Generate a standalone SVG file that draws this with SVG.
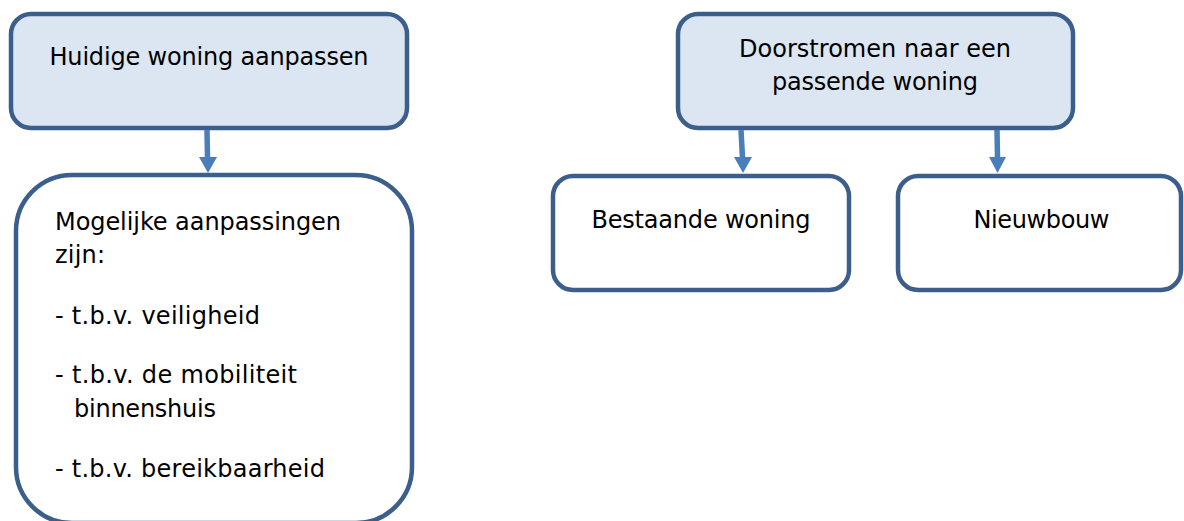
<svg xmlns="http://www.w3.org/2000/svg" width="1184" height="521" viewBox="0 0 1184 521">
<style>
.box{stroke:#3B5E8C;stroke-width:4.5;}
.hdr{fill:#DCE6F2;}
.sub{fill:#FFFFFF;}
text{font-family:"DejaVu Sans","Verdana",sans-serif;font-size:24px;fill:#000;}
.c{text-anchor:middle;}
.conn line{stroke:#4A7EBB;stroke-width:5.5;}
.conn polygon{fill:#4A7EBB;}
</style>
<rect width="1184" height="521" fill="#FFFFFF"/>
<g id="node-huidige">
<rect class="box hdr" x="11" y="14" width="396" height="114" rx="20" ry="20"/>
<text class="c" x="209" y="65" textLength="319" lengthAdjust="spacing">Huidige woning aanpassen</text>
</g>
<g id="node-aanpassingen">
<rect class="box sub" x="16" y="175" width="396" height="348" rx="56" ry="56"/>
<text x="55" y="230" textLength="286" lengthAdjust="spacing">Mogelijke aanpassingen</text>
<text x="55" y="263" textLength="50" lengthAdjust="spacing">zijn:</text>
<text x="55" y="324" textLength="205" lengthAdjust="spacing">- t.b.v. veiligheid</text>
<text x="55" y="383" textLength="242" lengthAdjust="spacing">- t.b.v. de mobiliteit</text>
<text x="74" y="417" textLength="142" lengthAdjust="spacing">binnenshuis</text>
<text x="55" y="477" textLength="270" lengthAdjust="spacing">- t.b.v. bereikbaarheid</text>
</g>
<g id="node-doorstromen">
<rect class="box hdr" x="678" y="14" width="395" height="114" rx="20" ry="20"/>
<text class="c" x="875" y="57" textLength="272" lengthAdjust="spacing">Doorstromen naar een</text>
<text class="c" x="875" y="90" textLength="206" lengthAdjust="spacing">passende woning</text>
</g>
<g id="node-bestaande">
<rect class="box sub" x="553" y="176" width="296" height="114" rx="20" ry="20"/>
<text class="c" x="701" y="228" textLength="219" lengthAdjust="spacing">Bestaande woning</text>
</g>
<g id="node-nieuwbouw">
<rect class="box sub" x="898" y="176" width="283" height="114" rx="20" ry="20"/>
<text class="c" x="1041.5" y="228" textLength="136" lengthAdjust="spacing">Nieuwbouw</text>
</g>
<g id="connectors" class="conn">
<line x1="207" y1="130" x2="207.5" y2="158"/>
<polygon points="199,157 217,157 208,173"/>
<line x1="741" y1="130" x2="742.5" y2="158"/>
<polygon points="734,157 752,157 743,173"/>
<line x1="997" y1="130" x2="997.5" y2="158"/>
<polygon points="989,157 1006,157 997.5,173"/>
</g>
</svg>
